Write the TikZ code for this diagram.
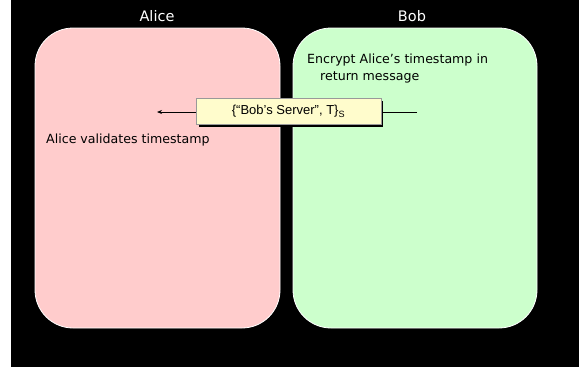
\documentclass[tikz,border=0pt]{standalone}
\usepackage{fontspec}
\usetikzlibrary{arrows.meta}
\setmainfont{DejaVu Sans}
\newfontfamily\labelfont{Liberation Sans}
\begin{document}
\begin{tikzpicture}[x=1pt,y=-1pt,
  party/.style={draw=white, line width=0.8pt, rounded corners=38pt},
  who/.style={text=white, font=\fontsize{14.5}{16}\selectfont, inner sep=0pt},
  note/.style={text=black, font=\fontsize{12.6}{14}\selectfont, inner sep=0pt, anchor=west},
  msg/.style={fill=yellow!20!white, draw=black!40, line width=0.4pt, font=\labelfont\fontsize{13}{15}\selectfont,
    minimum width=185pt, minimum height=26pt, inner sep=0pt}]
  % canvas
  \useasboundingbox (0,0) rectangle (579,367);
  \fill[white] (0,0) rectangle (579,367);
  \fill[black] (11,0) rectangle (579,367);
  % the two parties
  \path[party, fill={rgb,255:red,255;green,204;blue,204}] (35,28) rectangle (280,328);
  \path[party, fill={rgb,255:red,204;green,255;blue,204}] (293,28) rectangle (537,328);
  \node[who] (alice) at (157,16) {Alice};
  \node[who] (bob) at (412,16) {Bob};
  % annotations
  \node[note] (enc1) at (307,60) {Encrypt Alice’s timestamp in};
  \node[note] (enc2) at (320,77) {return message};
  \node[note] (val) at (46,140) {Alice validates timestamp};
  % message arrow
  \coordinate (src) at (417,112);
  \coordinate (dst) at (157,112);
  \draw[-{Stealth[length=5pt,width=4pt]}, line width=0.9pt] (src) -- (dst);
  \fill[black] (199,101) rectangle (383,127);
  \node[msg] (m) at (288.5,111.5) {\{“Bob’s Server”, T\}\textsubscript{S}};
\end{tikzpicture}
\end{document}
